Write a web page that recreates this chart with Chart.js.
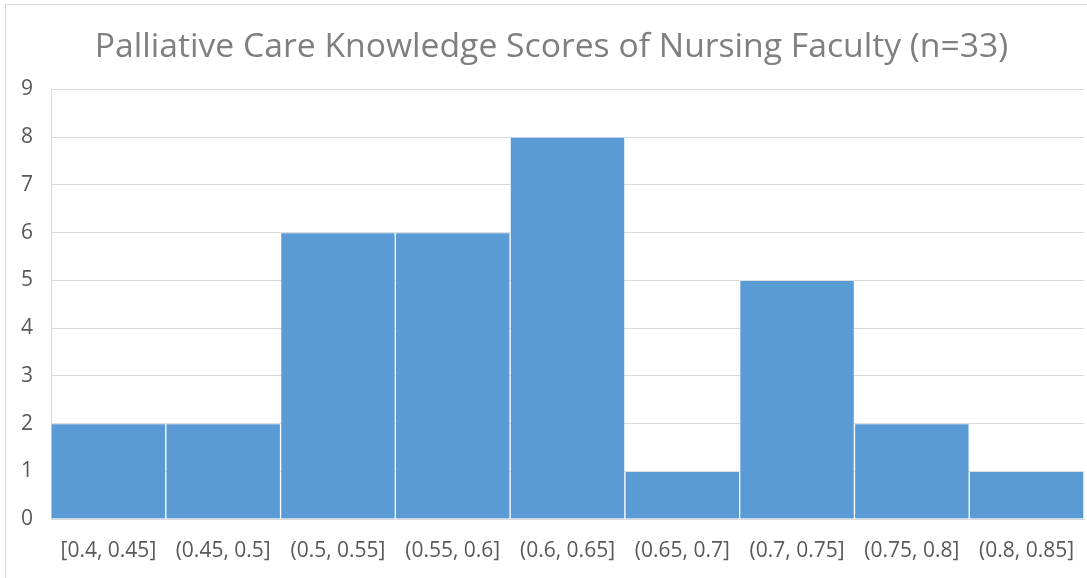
<!DOCTYPE html>
<html>
<head>
<meta charset="utf-8">
<script src="https://cdn.jsdelivr.net/npm/chart.js@4/dist/chart.umd.min.js"></script>
<style>
  html, body { margin: 0; padding: 0; background: #fff; overflow: hidden; }
  #wrap { position: relative; width: 1087px; height: 578px; }
  #frame { position: absolute; left: 5px; top: 4px; width: 1200px; height: 700px; border: 1px solid #d9d9d9; box-sizing: border-box; }
  canvas { position: absolute; left: 0; top: 0; }
</style>
</head>
<body>
<div id="wrap">
  <div id="frame"></div>
  <canvas id="hist" width="1087" height="578"></canvas>
</div>
<script>
var bins = ["[0.4, 0.45]", "(0.45, 0.5]", "(0.5, 0.55]", "(0.55, 0.6]", "(0.6, 0.65]", "(0.65, 0.7]", "(0.7, 0.75]", "(0.75, 0.8]", "(0.8, 0.85]"];
var counts = [2, 2, 6, 6, 8, 1, 5, 2, 1];
var yMax = 9;

// the title in the original sits a bit right of the canvas centre
var shiftTitle = {
  id: "shiftTitle",
  afterLayout: function(chart) {
    var t = chart.titleBlock;
    if (t) { t.left += 8; t.right += 8; }
  }
};

var ctx = document.getElementById("hist").getContext("2d");
var chart = new Chart(ctx, {
  type: "bar",
  data: {
    labels: bins,
    datasets: [{
      label: "Count",
      data: counts,
      backgroundColor: "#5b9bd5",
      borderColor: "rgba(255,255,255,0.18)",
      borderWidth: 1,
      barPercentage: 1,
      categoryPercentage: 1
    }]
  },
  options: {
    responsive: false,
    animation: false,
    layout: {
      padding: { left: 3, right: 3, top: 27, bottom: -6 }
    },
    plugins: {
      legend: { display: false },
      tooltip: { enabled: false },
      title: {
        display: true,
        text: "Palliative Care Knowledge Scores of Nursing Faculty (n=33)",
        color: "#7f7f7f",
        font: { family: "Open Sans", size: 33.7, weight: "normal" },
        padding: { top: 0, bottom: 22 }
      }
    },
    scales: {
      x: {
        grid: { display: false, drawTicks: false },
        border: { display: true, color: "#d9d9d9" },
        ticks: {
          color: "#595959",
          font: { family: "Open Sans", size: 21, lineHeight: "65px" },
          padding: 0,
          maxRotation: 0,
          autoSkip: false
        }
      },
      y: {
        min: 0,
        max: yMax,
        grid: { color: "#d9d9d9", drawTicks: false },
        border: { display: true, color: "#d9d9d9" },
        ticks: {
          stepSize: 1,
          color: "#595959",
          font: { family: "Open Sans", size: 21 },
          padding: 18
        }
      }
    }
  },
  plugins: [shiftTitle]
});
</script>
</body>
</html>
